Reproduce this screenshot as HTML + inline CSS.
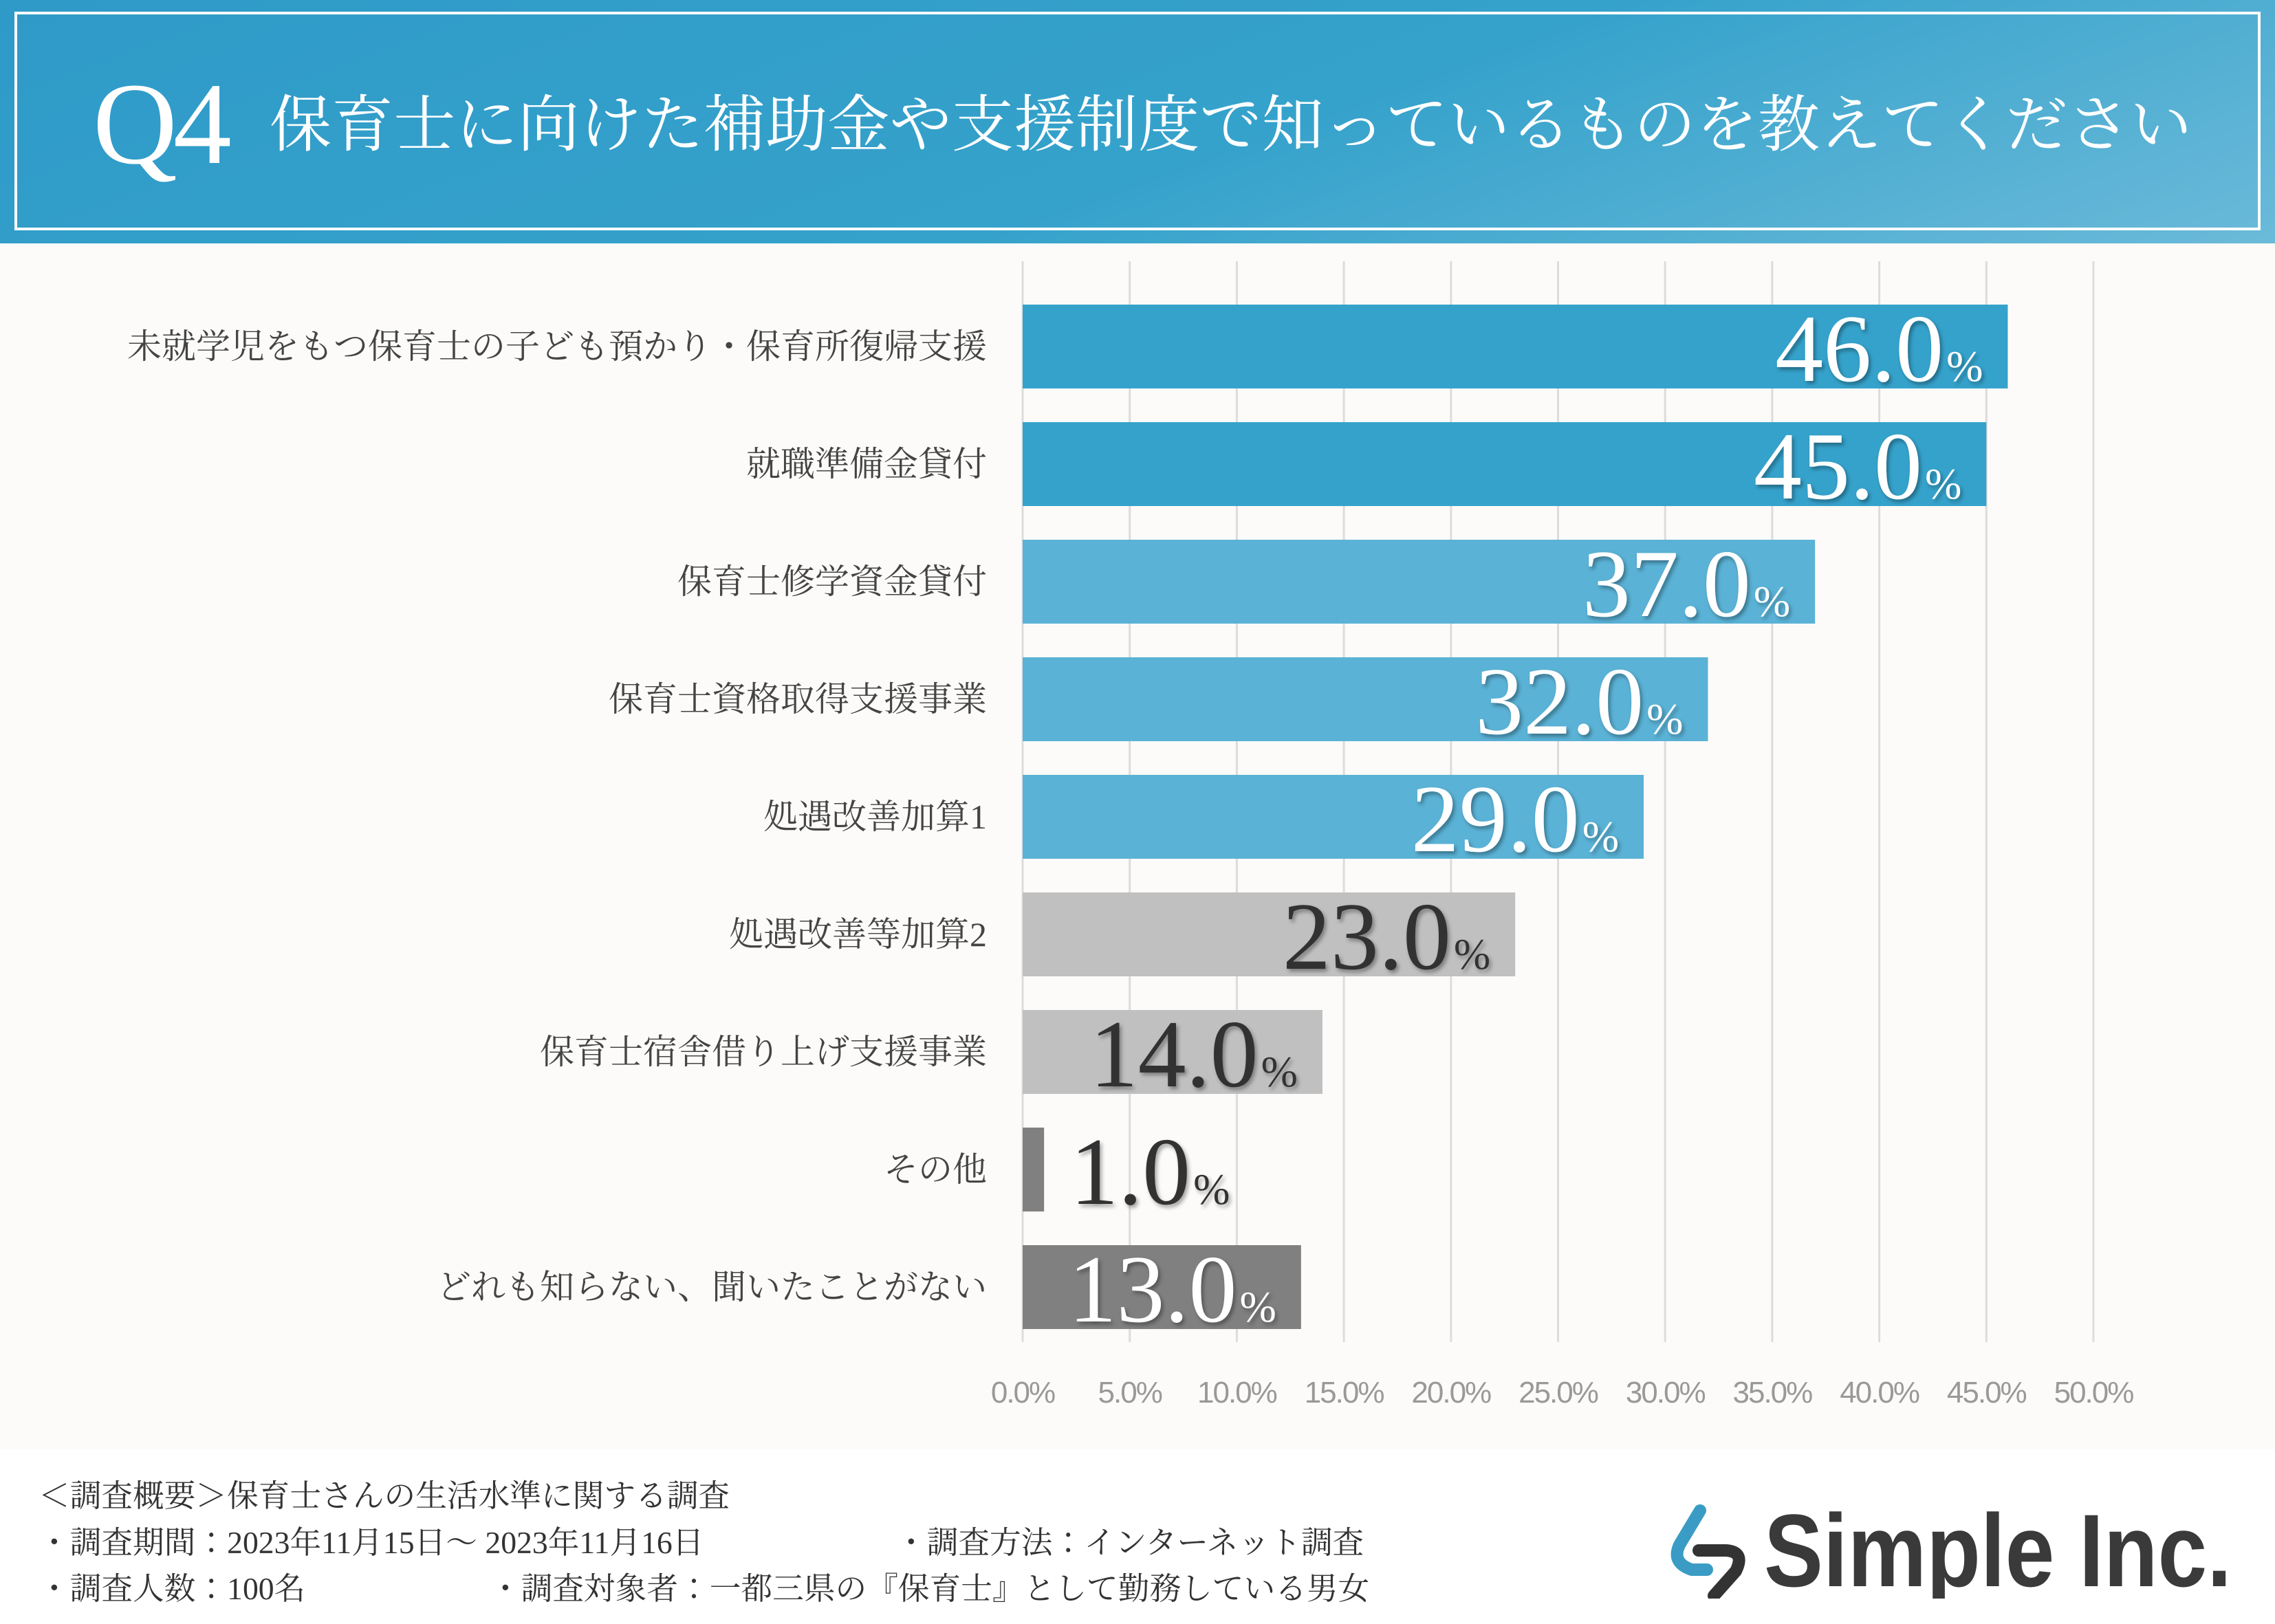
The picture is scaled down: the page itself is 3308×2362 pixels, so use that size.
<!DOCTYPE html>
<html><head><meta charset="utf-8">
<style>
html,body{margin:0;padding:0;}
body{width:3308px;height:2362px;position:relative;background:#fcfbf9;overflow:hidden;font-family:"Liberation Serif","Noto Serif CJK JP",serif;}
#header{position:absolute;left:0;top:0;width:3308px;height:354px;background:linear-gradient(160deg,#2f9ac8 0%,#35a2cb 55%,#6bbad9 100%);}
#frame{position:absolute;left:21px;top:17px;width:3258px;height:310px;border:4px solid #fff;}
#q4{position:absolute;left:135px;top:95px;font-size:170px;color:#fff;font-family:"Liberation Serif",serif;line-height:1;letter-spacing:-6px;}
#footer{position:absolute;left:0;top:2108px;width:3308px;height:254px;background:#fff;}
.fl{position:absolute;font-size:45.7px;color:#333;white-space:nowrap;line-height:1;font-family:"Liberation Serif","Noto Serif CJK JP",serif;}
#logo{position:absolute;left:2420px;top:2185px;width:830px;height:140px;}
</style></head><body>
<div id="header">
 <div id="frame"></div>
 <div id="q4">Q4</div>
 <svg style="position:absolute;left:0;top:0" width="3308" height="354">
  <text x="392" y="212" font-size="90" fill="#fff" font-family="Liberation Serif, Noto Serif CJK JP, serif" textLength="2795" lengthAdjust="spacing">保育士に向けた補助金や支援制度で知っているものを教えてください</text>
 </svg>
</div>
<svg id="chart" width="3308" height="2110" style="position:absolute;left:0;top:0">
 <defs><filter id="sh" x="-10%" y="-10%" width="120%" height="130%"><feDropShadow dx="3" dy="4" stdDeviation="3" flood-color="#000" flood-opacity="0.35"/></filter></defs>
 <g id="grid"></g><g id="bars"></g><g id="labels"></g>
</svg>
<div id="footer">
 <div class="fl" style="left:56px;top:45px">＜調査概要＞保育士さんの生活水準に関する調査</div>
 <div class="fl" style="left:56px;top:113px">・調査期間：2023年11月15日～ 2023年11月16日</div>
 <div class="fl" style="left:1302px;top:113px">・調査方法：インターネット調査</div>
 <div class="fl" style="left:56px;top:180px">・調査人数：100名</div>
 <div class="fl" style="left:712px;top:180px">・調査対象者：一都三県の『保育士』として勤務している男女</div>
</div>
<svg id="logo" viewBox="0 0 830 140">
 <path d="M52 12 L22 62 Q10 88 40 98 L62 98" fill="none" stroke="#3a9cc4" stroke-width="18" stroke-linecap="round"/>
 <path d="M50 70 L90 70 Q118 72 104 100 L72 136" fill="none" stroke="#333" stroke-width="18" stroke-linecap="round"/>
 <text x="145" y="122" font-family="Liberation Sans, sans-serif" font-weight="bold" font-size="150" fill="#3a3a3a" textLength="680" lengthAdjust="spacingAndGlyphs">Simple Inc.</text>
</svg>
<script>
const categories=["未就学児をもつ保育士の子ども預かり・保育所復帰支援","就職準備金貸付","保育士修学資金貸付","保育士資格取得支援事業","処遇改善加算1","処遇改善等加算2","保育士宿舎借り上げ支援事業","その他","どれも知らない、聞いたことがない"];
const values=[46.0,45.0,37.0,32.0,29.0,23.0,14.0,1.0,13.0];
const ticks=[0,5,10,15,20,25,30,35,40,45,50];
const NS="http://www.w3.org/2000/svg";
const x0=1487,x1=3044,xmax=50,top0=443,pitch=171,bh=122;
function xs(v){return x0+(x1-x0)*v/xmax;}
function yb(i){return top0+i*pitch;}
const colors=["#35a2cb","#35a2cb","#5ab2d6","#5ab2d6","#5ab2d6","#c0c0c0","#c0c0c0","#808080","#808080"];
const tcol=["#fff","#fff","#fff","#fff","#fff","#333","#333","#333","#fff"];
function mk(t,a,p){const e=document.createElementNS(NS,t);for(const k in a)e.setAttribute(k,a[k]);p.appendChild(e);return e;}
const g=document.getElementById('grid'),b=document.getElementById('bars'),l=document.getElementById('labels');
ticks.forEach(t=>{
 const ln=mk('line',{x1:xs(t),x2:xs(t),y1:380,y2:1952,stroke:'#dcdcdc','stroke-width':3},g);
 
 
 const tx=mk('text',{x:xs(t),y:2040,'text-anchor':'middle','font-size':44,fill:'#999','font-family':'Liberation Sans Narrow, Liberation Sans, sans-serif','letter-spacing':'-2'},g);
 tx.textContent=t.toFixed(1)+'%';
 
 
});
categories.forEach((c,i)=>{
 const y=yb(i),w=xs(values[i])-x0;
 const r=mk('rect',{x:x0,y:y,width:w,height:bh,fill:colors[i]},b);
 
 
 const ct=mk('text',{x:1435,y:y+bh/2+17,'text-anchor':'end','font-size':50,fill:'#444','font-family':'Liberation Serif, Noto Serif CJK JP, serif'},l);
 ct.textContent=c;
 
 
 const inside=values[i]>=5;
 const vt=mk('text',{x:inside?xs(values[i])-36:xs(values[i])+38,y:y+bh/2+50,'text-anchor':inside?'end':'start','font-size':140,fill:tcol[i],'font-family':'Liberation Serif, serif',filter:'url(#sh)'},l);
 const n=mk('tspan',{},vt);n.textContent=values[i].toFixed(1);
 const p=mk('tspan',{'font-size':64,dx:4},vt);p.textContent='%';
 
 
});
</script>
</body></html>
